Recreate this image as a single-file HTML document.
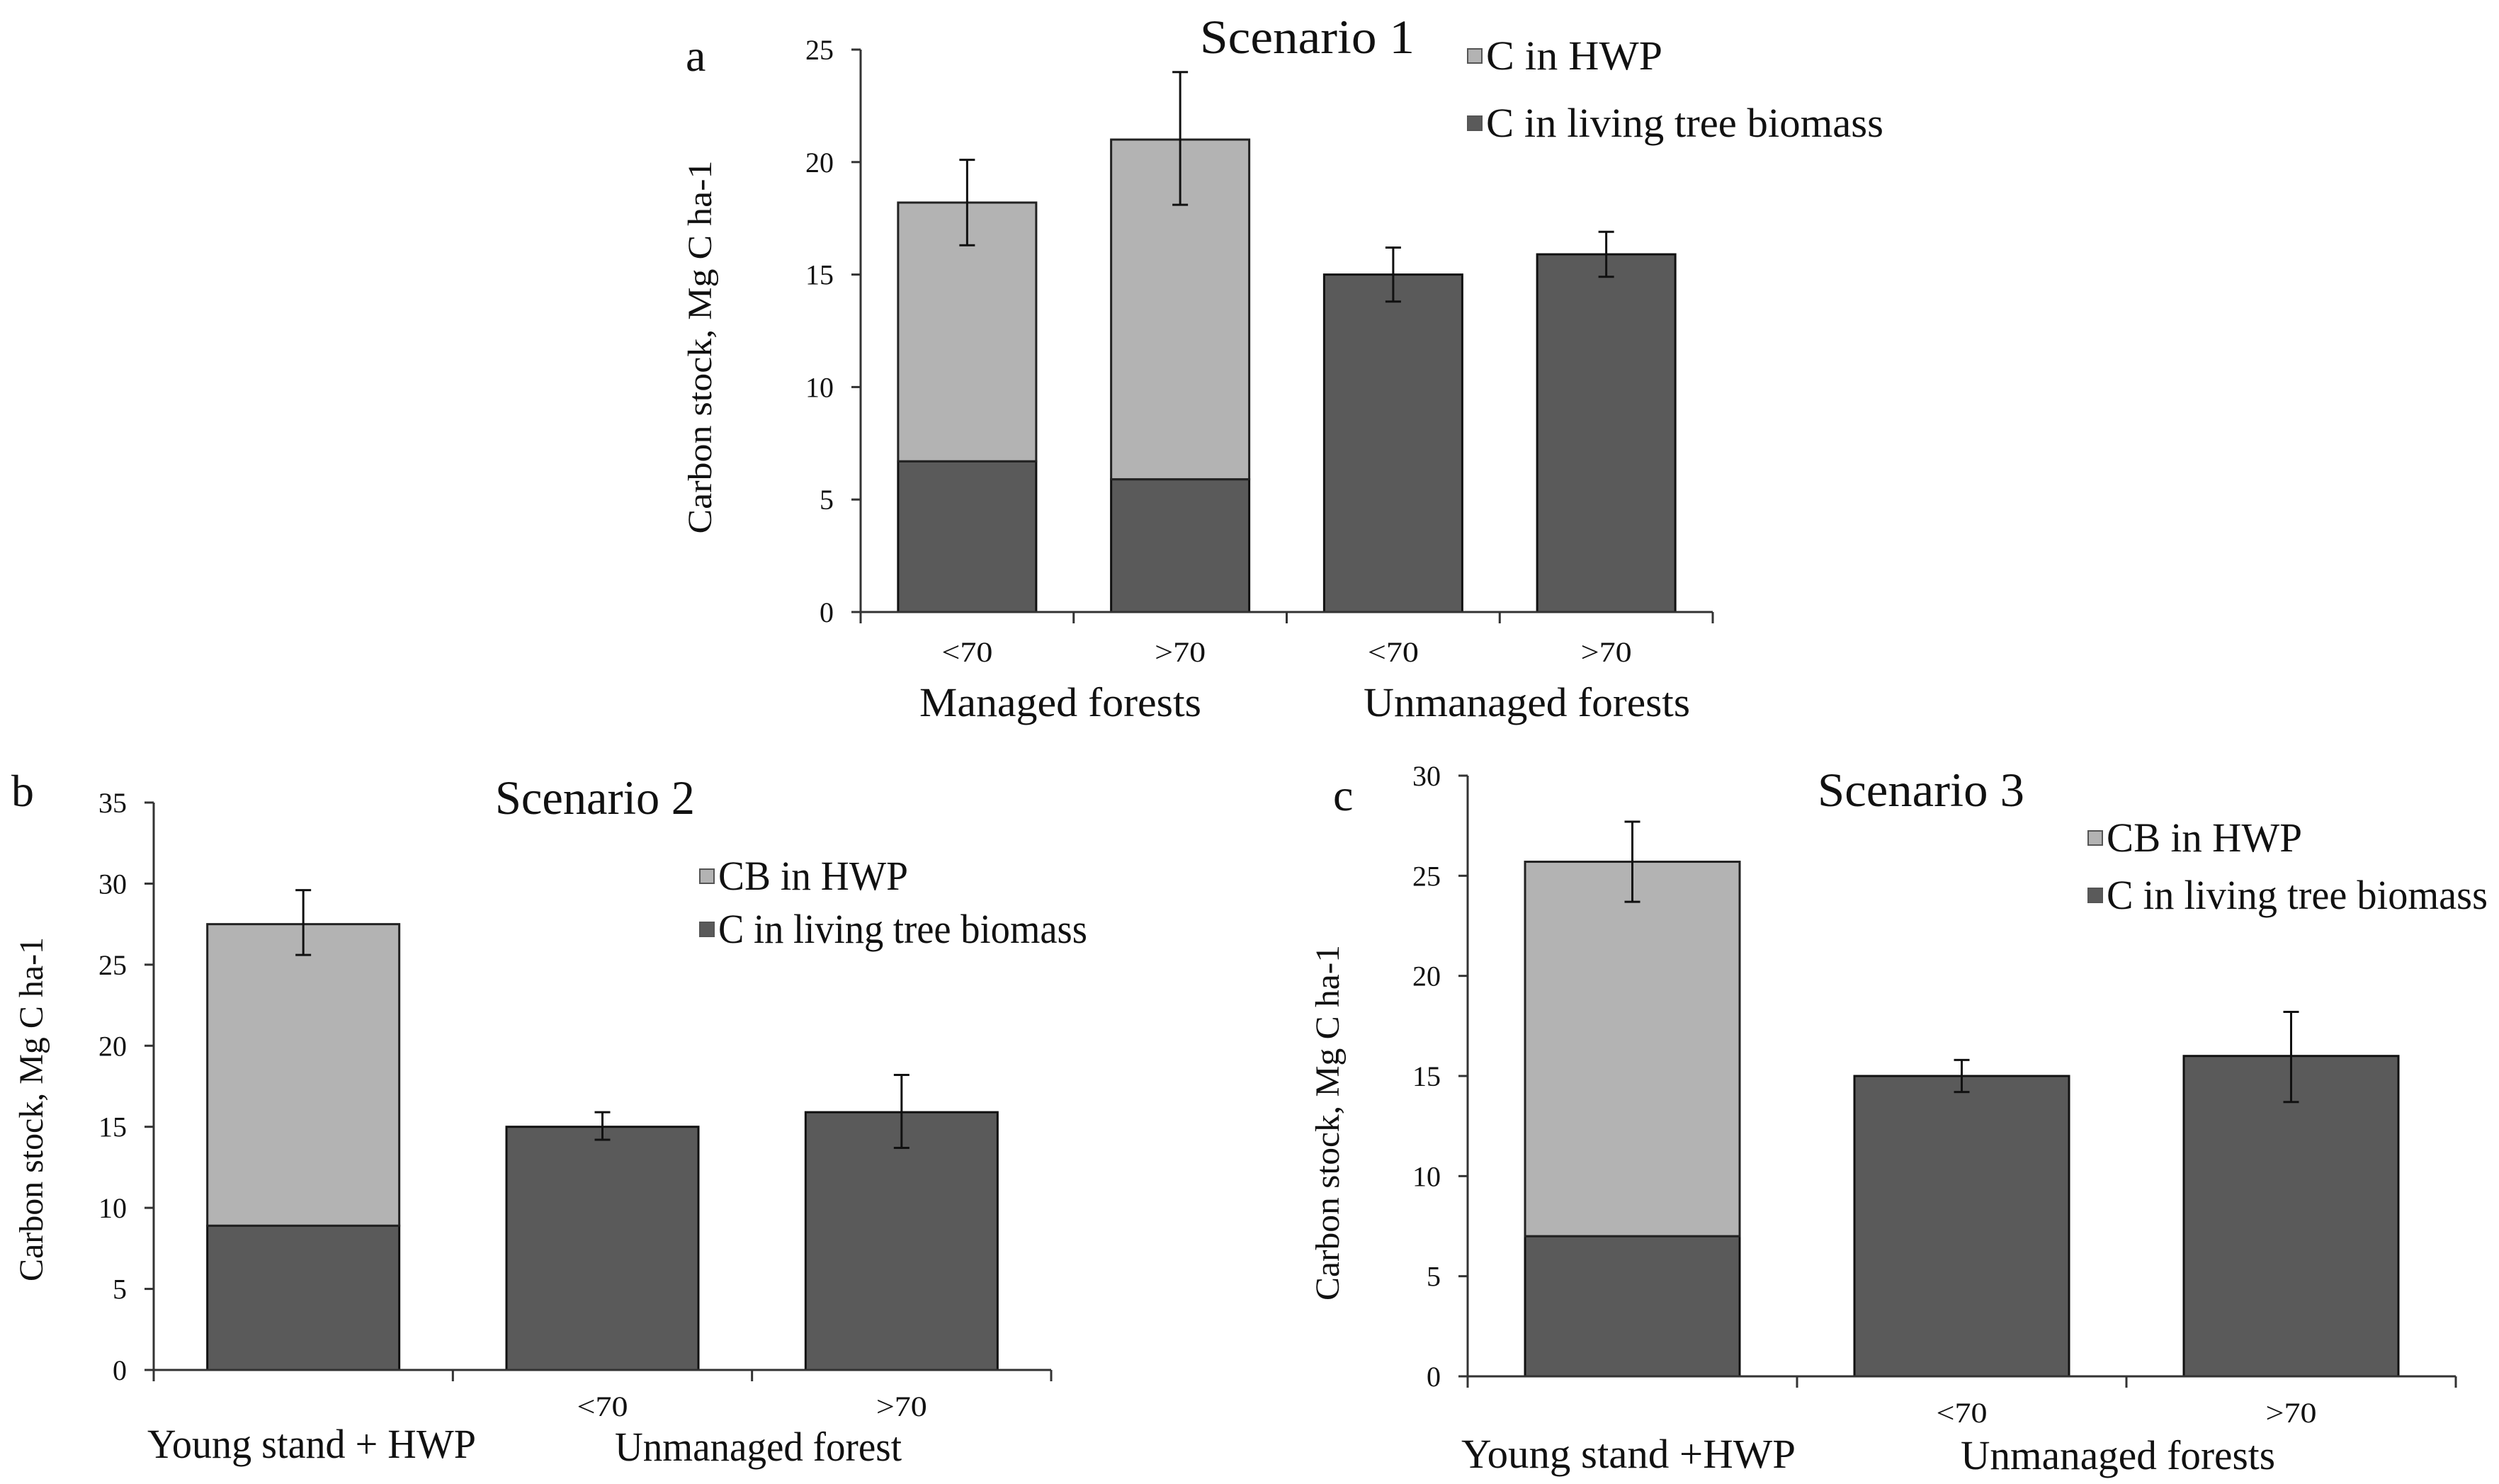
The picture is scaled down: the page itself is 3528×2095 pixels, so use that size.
<!DOCTYPE html>
<html><head><meta charset="utf-8"><style>
html,body{margin:0;padding:0;background:#fff;overflow:hidden;}
svg{display:block;}
svg text{font-family:"Liberation Serif","DejaVu Serif",serif;fill:#111;}
</style></head><body>
<svg id="fig" width="3528" height="2095" viewBox="0 0 3528 2095" xmlns="http://www.w3.org/2000/svg" font-family="Liberation Serif, DejaVu Serif, serif"></svg>
<script>
// ---- Data ----
const catsA = ["<70", ">70", "<70", ">70"];
const livingA = [6.7, 5.9, 15.0, 15.9];
const hwpA = [11.5, 15.1, 0, 0];
const errLoA = [16.3, 18.1, 13.8, 14.9];
const errHiA = [20.1, 24.0, 16.2, 16.9];
const ticksA = [0, 5, 10, 15, 20, 25];

const catsB = ["", "<70", ">70"];
const livingB = [8.9, 15.0, 15.9];
const hwpB = [18.6, 0, 0];
const errLoB = [25.6, 14.2, 13.7];
const errHiB = [29.6, 15.9, 18.2];
const ticksB = [0, 5, 10, 15, 20, 25, 30, 35];

const catsC = ["", "<70", ">70"];
const livingC = [7.0, 15.0, 16.0];
const hwpC = [18.7, 0, 0];
const errLoC = [23.7, 14.2, 13.7];
const errHiC = [27.7, 15.8, 18.2];
const ticksC = [0, 5, 10, 15, 20, 25, 30];

const NS = "http://www.w3.org/2000/svg";
const svg = document.getElementById('fig');
const FONT = '"Liberation Serif", "DejaVu Serif", serif';
function mk(tag, attrs, parent, txt){
  const e = document.createElementNS(NS, tag);
  for (const k in attrs) e.setAttribute(k, attrs[k]);
  if (tag === 'text') e.style.fontFamily = FONT;
  if (txt !== undefined) e.textContent = txt;
  (parent || svg).appendChild(e);
  return e;
}

function chart(o){
  const g = mk('g', {});
  
  
  const y = v => o.y0 - (v / o.ymax) * (o.y0 - o.ytop);
  const n = o.cats.length;
  const slot = (o.xr - o.x0) / n;
  const cx = i => o.x0 + slot * (i + 0.5);
  for (let i = 0; i < n; i++) {
    const x = cx(i) - o.bw / 2;
    const b1 = mk('rect', {x: x, y: y(o.living[i]), width: o.bw, height: o.y0 - y(o.living[i]), fill: '#5a5a5a', stroke: '#111', 'stroke-width': 3}, g);
    
    
    if (o.hwp[i] > 0) {
      const top = o.living[i] + o.hwp[i];
      const b2 = mk('rect', {x: x, y: y(top), width: o.bw, height: y(o.living[i]) - y(top), fill: '#b3b3b3', stroke: '#222', 'stroke-width': 3}, g);
      
      
    }
    const eg = mk('g', {stroke: '#111', 'stroke-width': 3}, g);
    
    
    mk('line', {x1: cx(i), x2: cx(i), y1: y(o.errLo[i]), y2: y(o.errHi[i])}, eg);
    mk('line', {x1: cx(i) - 11, x2: cx(i) + 11, y1: y(o.errLo[i]), y2: y(o.errLo[i])}, eg);
    mk('line', {x1: cx(i) - 11, x2: cx(i) + 11, y1: y(o.errHi[i]), y2: y(o.errHi[i])}, eg);
    if (o.cats[i]) {
      const t = mk('text', {x: cx(i), y: o.catY, 'font-size': 40, 'text-anchor': 'middle', textLength: 72, lengthAdjust: 'spacingAndGlyphs'}, g, o.cats[i]);
      
      
    }
  }
  const ax = mk('g', {stroke: '#333', 'stroke-width': 3}, g);
  
  
  mk('line', {x1: o.x0, x2: o.x0, y1: o.ytop, y2: o.y0}, ax);
  mk('line', {x1: o.x0, x2: o.xr, y1: o.y0, y2: o.y0}, ax);
  for (let i = 0; i <= n; i++) {
    const xx = o.x0 + slot * i;
    mk('line', {x1: xx, x2: xx, y1: o.y0, y2: o.y0 + 16}, ax);
  }
  o.ticks.forEach(v => {
    mk('line', {x1: o.x0 - 13, x2: o.x0, y1: y(v), y2: y(v)}, ax);
    const t = mk('text', {x: o.x0 - 38, y: y(v) + 14, 'font-size': 40, 'text-anchor': 'end'}, g, String(v));
    
    
  });
  const yt = mk('text', {x: 0, y: 0, 'font-size': 48, 'text-anchor': 'middle', textLength: o.ylLen, lengthAdjust: 'spacingAndGlyphs', transform: `translate(${o.ylX},${o.ylY}) rotate(-90)`}, g, 'Carbon stock, Mg C ha-1');
  
  
  const tt = mk('text', {x: o.tX, y: o.tY, 'font-size': 68, textLength: o.tW, lengthAdjust: 'spacingAndGlyphs'}, g, o.title);
  
  
  const pl = mk('text', {x: o.pX, y: o.pY, 'font-size': 64}, g, o.panel);
  
  
  o.legend.forEach((L, k) => {
    const lg = mk('g', {}, g);
    
    
    mk('rect', {x: o.lX, y: L.y - 10, width: 20, height: 20, fill: L.c, stroke: '#555', 'stroke-width': 2}, lg);
    mk('text', {x: o.lX + 26, y: L.y + 19, 'font-size': 58, textLength: L.w, lengthAdjust: 'spacingAndGlyphs'}, lg, L.t);
  });
  o.groups.forEach((G, k) => {
    const t = mk('text', {x: G.x, y: G.y, 'font-size': 58, textLength: G.w, lengthAdjust: 'spacingAndGlyphs'}, g, G.t);
    
    
  });
}

chart({name: 'chart-scenario-1', cats: catsA, living: livingA, hwp: hwpA, errLo: errLoA, errHi: errHiA, ticks: ticksA,
  ymax: 25, x0: 1215, xr: 2418, y0: 864, ytop: 70, bw: 195, catY: 934,
  ylX: 1004, ylY: 490, ylLen: 527, title: 'Scenario 1', tX: 1694, tY: 75, tW: 303,
  panel: 'a', pX: 968, pY: 100,
  lX: 2072, legend: [{t: 'C in HWP', c: '#b3b3b3', y: 79, w: 249}, {t: 'C in living tree biomass', c: '#5a5a5a', y: 174, w: 561}],
  groups: [{t: 'Managed forests', x: 1298, y: 1011, w: 398}, {t: 'Unmanaged forests', x: 1925, y: 1011, w: 461}]});

chart({name: 'chart-scenario-2', cats: catsB, living: livingB, hwp: hwpB, errLo: errLoB, errHi: errHiB, ticks: ticksB,
  ymax: 35, x0: 217, xr: 1484, y0: 1934, ytop: 1133, bw: 271, catY: 1999,
  ylX: 60, ylY: 1566, ylLen: 486, title: 'Scenario 2', tX: 699, tY: 1149, tW: 282,
  panel: 'b', pX: 16, pY: 1138,
  lX: 988, legend: [{t: 'CB in HWP', c: '#b3b3b3', y: 1237, w: 268}, {t: 'C in living tree biomass', c: '#5a5a5a', y: 1312, w: 521}],
  groups: [{t: 'Young stand + HWP', x: 208, y: 2058, w: 464}, {t: 'Unmanaged forest', x: 868, y: 2062, w: 405}]});

chart({name: 'chart-scenario-3', cats: catsC, living: livingC, hwp: hwpC, errLo: errLoC, errHi: errHiC, ticks: ticksC,
  ymax: 30, x0: 2072, xr: 3467, y0: 1943, ytop: 1095, bw: 303, catY: 2008,
  ylX: 1890, ylY: 1585, ylLen: 502, title: 'Scenario 3', tX: 2566, tY: 1138, tW: 292,
  panel: 'c', pX: 1882, pY: 1144,
  lX: 2948, legend: [{t: 'CB in HWP', c: '#b3b3b3', y: 1183, w: 276}, {t: 'C in living tree biomass', c: '#5a5a5a', y: 1264, w: 538}],
  groups: [{t: 'Young stand +HWP', x: 2063, y: 2072, w: 472}, {t: 'Unmanaged forests', x: 2768, y: 2074, w: 444}]});
</script>
</body></html>
